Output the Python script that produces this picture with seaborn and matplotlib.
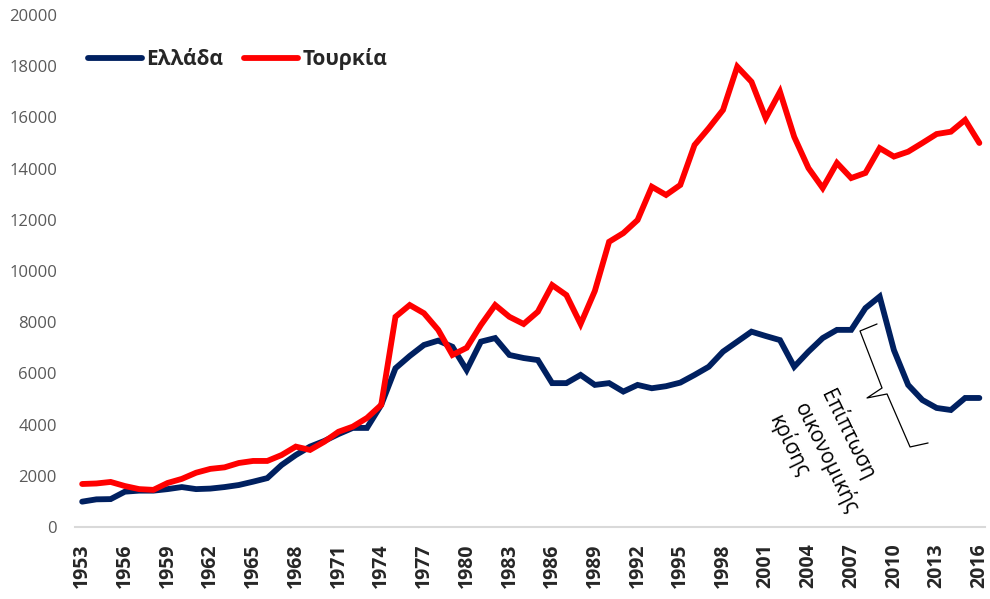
import seaborn as sns
import pandas as pd
import matplotlib.pyplot as plt

years = list(range(1953, 2017))
ellada = [990, 1080, 1090, 1380, 1420, 1420, 1480, 1560, 1480, 1500, 1560, 1640,
          1770, 1910, 2420, 2810, 3140, 3360, 3630, 3870, 3870, 4770,
          6200, 6680, 7110, 7280, 7040, 6130, 7240, 7380, 6720, 6600, 6520,
          5620, 5620, 5940, 5550, 5620, 5290, 5550, 5420, 5500, 5640,
          5940, 6260, 6850, 7240, 7630, 7460, 7300, 6260, 6850, 7380,
          7700, 7700, 8550, 9000, 6910, 5550, 4960, 4650, 4570, 5040, 5040]
tourkia = [1680, 1700, 1760, 1600, 1480, 1450, 1720, 1880, 2120, 2270, 2330, 2500,
           2580, 2580, 2810, 3140, 3010, 3330, 3720, 3920, 4260, 4770,
           8210, 8670, 8350, 7700, 6720, 7000, 7890, 8670, 8210, 7930, 8410,
           9450, 9060, 7930, 9220, 11140, 11480, 11990, 13290, 12970, 13360,
           14920, 15580, 16290, 17980, 17390, 15970, 17000, 15240, 14020, 13240,
           14220, 13630, 13830, 14800, 14470, 14660, 15000, 15350, 15440, 15900, 15000]
xticks = list(range(1953, 2017, 3))
yticks = list(range(0, 20001, 2000))

sns.set_style('white')
plt.rcParams['font.family'] = ['Open Sans', 'DejaVu Sans']

df = pd.DataFrame({'έτος': years * 2,
                   'τιμή': ellada + tourkia,
                   'χώρα': ['Ελλάδα'] * len(years) + ['Τουρκία'] * len(years)})

fig = plt.figure(figsize=(9.9, 5.99), dpi=100)
ax = fig.add_axes([0.0758, 0.1202, 0.9192, 0.8548])
sns.lineplot(data=df, x='έτος', y='τιμή', hue='χώρα',
             palette={'Ελλάδα': '#002060', 'Τουρκία': '#FF0000'},
             linewidth=4.2, ax=ax)
for l in ax.get_lines():
    l.set_solid_capstyle('round')
    l.set_solid_joinstyle('miter')

ax.set_xlim(1952.5, 2016.4)
ax.set_ylim(0, 20000)
ax.set_xticks(xticks)
ax.set_yticks(yticks)
ax.set_xlabel('')
ax.set_ylabel('')
for s in ['top', 'right', 'left']:
    ax.spines[s].set_visible(False)
ax.spines['bottom'].set_color('#d9d9d9')
ax.spines['bottom'].set_linewidth(1.5)
ax.tick_params(axis='y', length=0, pad=13, labelsize=12, labelcolor='#595959')
ax.tick_params(axis='x', length=0, pad=12, labelsize=14)
plt.setp(ax.get_xticklabels(), rotation=90, fontweight='bold')

leg = ax.legend(loc='center left', bbox_to_anchor=(0.005, 0.914), ncol=2, frameon=False,
                fontsize=15, handlelength=2.6, handletextpad=0.2, columnspacing=1.0,
                borderaxespad=0)
for t in leg.get_texts():
    t.set_fontweight('bold')
for h in leg.get_lines():
    h.set_linewidth(4.2)
    h.set_solid_capstyle('round')

# άγκιστρο για την κρίση
bx = [0.8813, 0.8626, 0.8868, 0.8703, 0.8923, 0.9176, 0.9374]
by = [0.3965, 0.3828, 0.2715, 0.2520, 0.2598, 0.1563, 0.1641]
ax.plot(bx, by, color='black', linewidth=0.9, transform=ax.transAxes)

ax.text(0.826, 0.135, 'Επίπτωση\nοικονομικής\nκρίσης', transform=ax.transAxes,
        rotation=-64, rotation_mode='anchor', ha='center', va='center',
        multialignment='left', fontsize=15, linespacing=1.3, color='black')

plt.savefig('out.png', dpi=100)
